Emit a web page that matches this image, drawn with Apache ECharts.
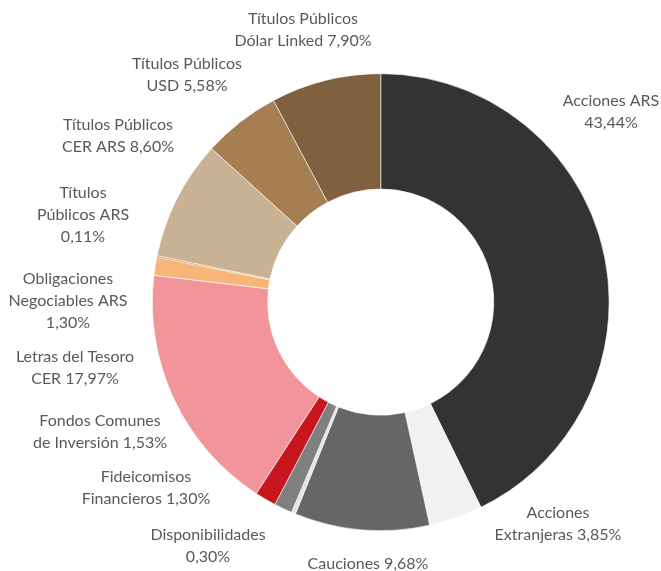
<!DOCTYPE html>
<html>
<head>
<meta charset="utf-8">
<script src="https://cdn.jsdelivr.net/npm/echarts@6/dist/echarts.min.js"></script>
<style>
  html, body { margin: 0; padding: 0; background: #ffffff; }
  #chart { width: 661px; height: 571px; }
</style>
</head>
<body>
<div id="chart"></div>
<script>
// Portfolio composition by asset type (percent of total)
const categories = [
  'Acciones ARS',
  'Acciones Extranjeras',
  'Cauciones',
  'Disponibilidades',
  'Fideicomisos Financieros',
  'Fondos Comunes de Inversión',
  'Letras del Tesoro CER',
  'Obligaciones Negociables ARS',
  'Títulos Públicos ARS',
  'Títulos Públicos CER ARS',
  'Títulos Públicos USD',
  'Títulos Públicos Dólar Linked'
];
const shares = [43.44, 3.85, 9.68, 0.30, 1.30, 1.53, 17.97, 1.30, 0.11, 8.60, 5.58, 7.90];

// How each label's name is broken into lines (a trailing newline puts the value on its own line)
const labelNames = [
  'Acciones ARS\n',
  'Acciones\nExtranjeras',
  'Cauciones',
  'Disponibilidades\n',
  'Fideicomisos\nFinancieros',
  'Fondos Comunes\nde Inversión',
  'Letras del Tesoro\nCER',
  'Obligaciones\nNegociables ARS\n',
  'Títulos\nPúblicos ARS\n',
  'Títulos Públicos\nCER ARS',
  'Títulos Públicos\nUSD',
  'Títulos Públicos\nDólar Linked'
];

const sliceColors = [
  '#333333', '#f1f1f1', '#666666', '#e4e4e4', '#7f8180', '#c8161e',
  '#f1959b', '#f8b57a', '#d9782c', '#c9b193', '#a57f51', '#7f613f'
];

// Label block centres (px) around the ring
const labelAnchors = [
  [611, 112], [558, 524], [368, 564], [208, 546], [146, 488], [100, 432],
  [75, 368], [68, 301], [83, 215], [118, 136], [187, 75], [303, 30]
];

const fmt = v => v.toFixed(2).replace('.', ',') + '%';

const chart = echarts.init(document.getElementById('chart'), null, { renderer: 'canvas' });
chart.setOption({
  animation: false,
  backgroundColor: '#ffffff',
  series: [{
    type: 'pie',
    center: ['57.6%', '52.9%'],
    radius: ['39.6%', '80%'],
    startAngle: 90,
    clockwise: true,
    avoidLabelOverlap: false,
    itemStyle: { borderColor: '#ffffff', borderWidth: 0.6 },
    label: {
      show: true,
      position: 'outside',
      fontFamily: 'Lato',
      fontSize: 16,
      lineHeight: 22,
      color: '#595959',
      align: 'center',
      formatter: p => {
        const name = labelNames[p.dataIndex];
        return name.endsWith('\n') ? name + fmt(p.value) : name + ' ' + fmt(p.value);
      }
    },
    labelLine: { show: false },
    labelLayout: p => ({
      x: labelAnchors[p.dataIndex][0],
      y: labelAnchors[p.dataIndex][1],
      align: 'center',
      verticalAlign: 'middle'
    }),
    emphasis: { disabled: true },
    data: categories.map((c, i) => ({
      name: c,
      value: shares[i],
      itemStyle: { color: sliceColors[i] }
    }))
  }]
});
</script>
</body>
</html>
